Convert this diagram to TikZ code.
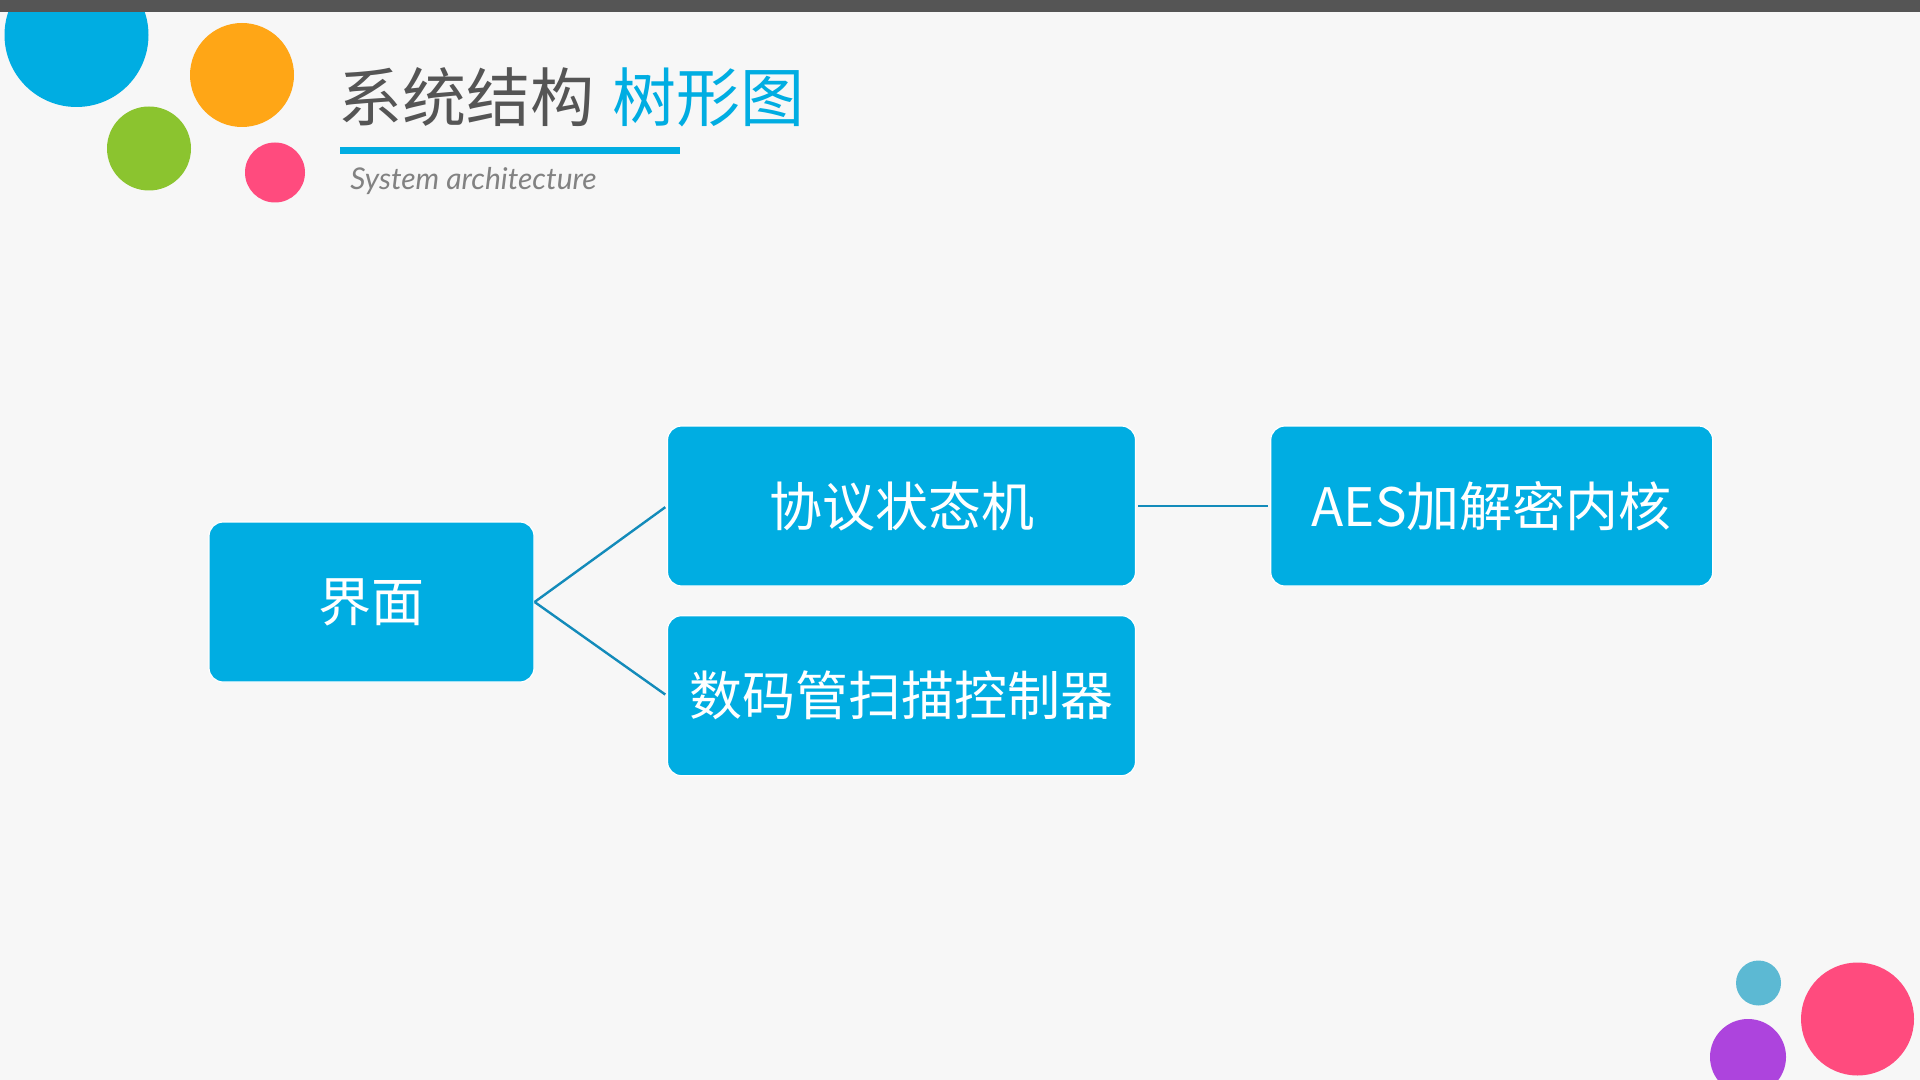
\documentclass[tikz,border=0pt]{standalone}
\usepackage{fontspec}
\setmainfont{Lato}
\newfontfamily\cjk{Noto Sans CJK SC}
\usetikzlibrary{positioning}
\definecolor{bgGray}{RGB}{247,247,247}
\definecolor{barGray}{RGB}{85,85,85}
\definecolor{titleGray}{RGB}{85,85,85}
\definecolor{subGray}{RGB}{130,130,130}
\definecolor{skyBlue}{RGB}{0,173,226}
\definecolor{lineBlue}{RGB}{19,139,186}
\definecolor{dotOrange}{RGB}{255,166,22}
\definecolor{dotGreen}{RGB}{139,196,47}
\definecolor{dotPink}{RGB}{255,75,126}
\definecolor{dotTeal}{RGB}{92,185,211}
\definecolor{dotPurple}{RGB}{173,68,221}

\begin{document}
\begin{tikzpicture}[x=0.5pt,y=-0.5pt,
  box/.style={draw=white, line width=0.6pt, fill=skyBlue, rounded corners=7pt,
    text=white, inner sep=0pt, font=\cjk\fontsize{26.5}{30}\selectfont},
  link/.style={draw=lineBlue, line width=1.2pt, shorten >=1pt}]

  % background
  \useasboundingbox (0,0) rectangle (1920,1080);
  \clip (0,0) rectangle (1920,1080);
  \fill[bgGray] (0,0) rectangle (1920,1080);

  % dots top left
  \fill[skyBlue] (76.5,35) circle (36pt);
  \fill[dotOrange] (242,75) circle (26pt);
  \fill[dotGreen] (149,148.5) circle (21pt);
  \fill[dotPink] (275,172.5) circle (15pt);
  \fill[barGray] (0,0) rectangle (1920,12);

  % dots bottom right
  \fill[dotTeal] (1758.5,983) circle (11.25pt);
  \fill[dotPurple] (1748,1057) circle (19pt);
  \fill[dotPink] (1857.5,1019) circle (28.25pt);

  % title
  \node[anchor=west, inner sep=0pt, text=titleGray, font=\cjk\fontsize{32}{36}\selectfont]
    (title) at (338,97) {系统结构\hspace{9pt}\textcolor{skyBlue}{树形图}};
  \fill[skyBlue] (340,147) rectangle (680,154);
  \node[anchor=base west, inner sep=0pt, text=subGray, font=\itshape\fontsize{15}{18}\selectfont]
    (subtitle) at (350,190) {System architecture};

  % tree
  \node[box, minimum width=162.5pt, minimum height=80pt] (ui) at (371.5,602) {界面};
  \node[box, minimum width=234pt, minimum height=80pt] (proto) at (901.5,506) {协议状态机};
  \node[box, minimum width=234pt, minimum height=80pt, below=14.25pt of proto] (scan) {数码管扫描控制器};
  \node[box, minimum width=221pt, minimum height=80pt, right=67pt of proto] (aes) {AES加解密内核};

  \draw[link] (ui.east) -- (proto.west);
  \draw[link] (ui.east) -- (scan.west);
  \draw[link, shorten <=1pt] (proto.east) -- (aes.west);

\end{tikzpicture}
\end{document}
